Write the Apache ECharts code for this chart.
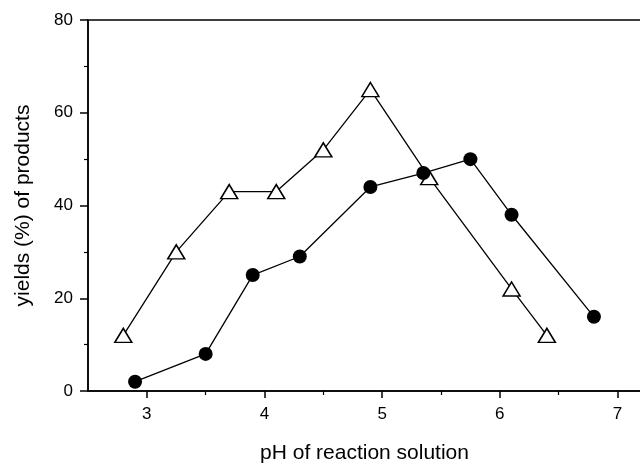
<!DOCTYPE html>
<html>
<head>
<meta charset="utf-8">
<script src="https://cdn.jsdelivr.net/npm/echarts@6/dist/echarts.min.js"></script>
<style>html,body{margin:0;padding:0;background:#fff;}#c{width:640px;height:464px;}</style>
</head>
<body>
<div id="c"></div>
<script>
// Data
var triangleX = [2.8, 3.25, 3.7, 4.1, 4.5, 4.9, 5.4, 6.1, 6.4];
var triangleY = [12, 30, 43, 43, 52, 65, 46, 22, 12];
var circleX = [2.9, 3.5, 3.9, 4.3, 4.9, 5.35, 5.75, 6.1, 6.8];
var circleY = [2, 8, 25, 29, 44, 47, 50, 38, 16];
var xMajorTicks = [3, 4, 5, 6, 7];
var xMinorTicks = [3.5, 4.5, 5.5, 6.5];
var xTitle = 'pH of reaction solution';
var yTitle = 'yields (%) of products';

function pairs(xs, ys) { return xs.map(function (x, i) { return [x, ys[i]]; }); }

var font = '"Liberation Sans", Arial, sans-serif';
var chart = echarts.init(document.getElementById('c'), null, {renderer: 'canvas'});
chart.setOption({
  animation: false,
  backgroundColor: '#fff',
  grid: {left: 88, top: 20, width: 553, height: 371, containLabel: false, outerBoundsMode: 'none',
    show: true, borderColor: '#000', borderWidth: 1.5, backgroundColor: 'transparent'},
  xAxis: [{
    type: 'value', min: 2.5, max: 7.2,
    splitLine: {show: false},
    axisLine: {show: true, lineStyle: {color: '#000', width: 1.5}},
    axisTick: {show: true, length: 7, customValues: xMajorTicks, lineStyle: {color: '#000', width: 1.5}},
    axisLabel: {show: true, customValues: xMajorTicks, margin: 15, color: '#000', fontSize: 17, fontFamily: font},
    name: xTitle, nameLocation: 'middle', nameGap: 52,
    nameTextStyle: {color: '#000', fontSize: 21, fontFamily: font}
  }, {
    type: 'value', min: 2.5, max: 7.2, position: 'bottom',
    splitLine: {show: false},
    axisLine: {show: false},
    axisTick: {show: true, length: 4, customValues: xMinorTicks, lineStyle: {color: '#000', width: 1.2}},
    axisLabel: {show: false}
  }],
  yAxis: {
    type: 'value', min: 0, max: 80, interval: 20,
    splitLine: {show: false},
    axisLine: {show: true, lineStyle: {color: '#000', width: 1.5}},
    axisTick: {show: true, length: 8, lineStyle: {color: '#000', width: 1.5}},
    minorTick: {show: true, splitNumber: 2, length: 4, lineStyle: {color: '#000', width: 1.2}},
    axisLabel: {margin: 15, color: '#000', fontSize: 17, fontFamily: font},
    name: yTitle, nameLocation: 'middle', nameGap: 54, nameRotate: 90,
    nameTextStyle: {color: '#000', fontSize: 21, fontFamily: font}
  },
  series: [{
    type: 'line', xAxisIndex: 0, data: pairs(triangleX, triangleY),
    symbol: 'triangle', symbolSize: [17, 14], showAllSymbol: true,
    lineStyle: {color: '#000', width: 1.3},
    itemStyle: {color: '#fff', borderColor: '#000', borderWidth: 1.5},
    z: 2
  }, {
    type: 'line', xAxisIndex: 0, data: pairs(circleX, circleY),
    symbol: 'circle', symbolSize: 14, showAllSymbol: true,
    lineStyle: {color: '#000', width: 1.3},
    itemStyle: {color: '#000', borderColor: '#000', borderWidth: 0},
    z: 3
  }]
});
</script>
</body>
</html>
